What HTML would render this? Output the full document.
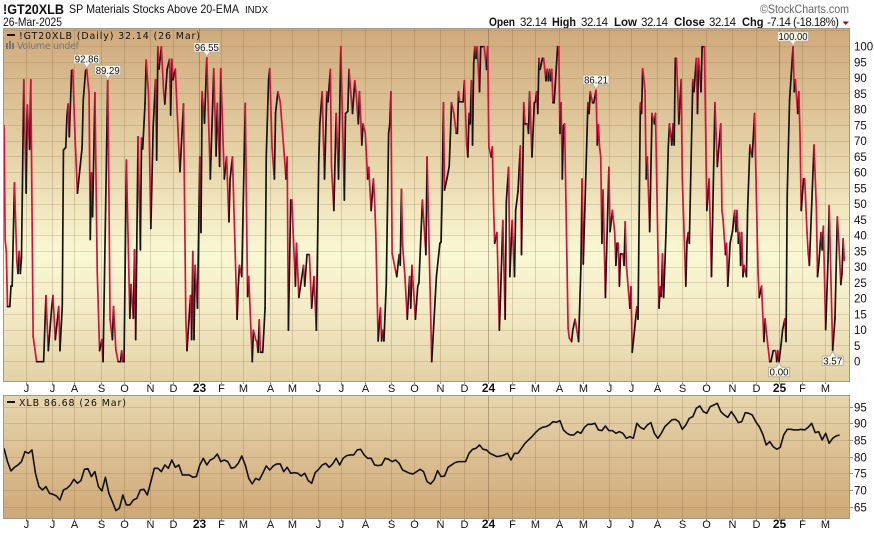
<!DOCTYPE html>
<html lang="en">
<head>
<meta charset="utf-8">
<title>!GT20XLB chart</title>
<style>
html,body{margin:0;padding:0;background:#fff;width:874px;height:533px;overflow:hidden}
svg{display:block}
text{font-family:"Liberation Sans",sans-serif;fill:#111}
.lg{font-family:"DejaVu Sans","Liberation Sans",sans-serif;font-size:9.5px}
.hb{font-weight:bold;font-size:12px}
.hv{font-size:11.5px}
</style>
</head>
<body>
<svg id="chart" xmlns="http://www.w3.org/2000/svg" width="874" height="533" viewBox="0 0 874 533">
<defs>
<linearGradient id="mainBg" x1="0" y1="0" x2="0" y2="1">
<stop offset="0" stop-color="#cfa97b"/><stop offset="0.36" stop-color="#e6d3a8"/><stop offset="0.64" stop-color="#faf8d4"/><stop offset="0.8" stop-color="#f3ebc6"/><stop offset="1" stop-color="#e4d1a6"/>
</linearGradient>
<linearGradient id="lowerBg" x1="0" y1="0" x2="0" y2="1">
<stop offset="0" stop-color="#e7d6ad"/><stop offset="1" stop-color="#cfa877"/>
</linearGradient>
</defs>

<text x="3" y="14" font-size="14" font-weight="bold" textLength="61" lengthAdjust="spacingAndGlyphs">!GT20XLB</text>
<text x="69" y="13" font-size="12" textLength="170" lengthAdjust="spacingAndGlyphs">SP Materials Stocks Above 20-EMA</text>
<text x="245" y="13" font-size="10.5" textLength="23" lengthAdjust="spacingAndGlyphs">INDX</text>
<text x="3" y="26" font-size="11.5" textLength="59" lengthAdjust="spacingAndGlyphs">26-Mar-2025</text>
<text x="760" y="13" font-size="12" style="fill:#666" textLength="89" lengthAdjust="spacingAndGlyphs">©StockCharts.com</text>

<g>
<text class="hb" x="489" y="26" textLength="26" lengthAdjust="spacingAndGlyphs">Open</text>
<text class="hv" x="520" y="26" textLength="27">32.14</text>
<text class="hb" x="552" y="26" textLength="24" lengthAdjust="spacingAndGlyphs">High</text>
<text class="hv" x="581" y="26" textLength="27">32.14</text>
<text class="hb" x="614" y="26" textLength="23" lengthAdjust="spacingAndGlyphs">Low</text>
<text class="hv" x="641" y="26" textLength="27">32.14</text>
<text class="hb" x="674" y="26" textLength="31" lengthAdjust="spacingAndGlyphs">Close</text>
<text class="hv" x="709" y="26" textLength="27">32.14</text>
<text class="hb" x="742" y="26" textLength="21.5" lengthAdjust="spacingAndGlyphs">Chg</text>
<text class="hv" x="767" y="26" textLength="72">-7.14 (-18.18%)</text>
<path d="M842.5 21.5h6.5l-3.25 3.5z" fill="#8f0f2f"/>
</g>

<rect x="3.5" y="28.5" width="846" height="353" fill="url(#mainBg)"/>
<rect x="3.5" y="395.5" width="846" height="123" fill="url(#lowerBg)"/>
<g id="grid"></g>
<g id="axes"></g>
<g id="mainSeries"></g>
<path id="xlbLine" fill="none" stroke="#111" stroke-width="1.6" stroke-linejoin="round"/>
<rect x="3.5" y="28.5" width="846" height="353" fill="none" stroke="#a8958a"/>
<rect x="3.5" y="395.5" width="846" height="123" fill="none" stroke="#a8958a"/>
<g id="callouts"></g>

<g>
<rect x="7" y="34" width="8" height="2" fill="#111"/>
<text class="lg" x="19" y="39" textLength="181">!GT20XLB (Daily) 32.14 (26 Mar)</text>
<path d="M6 43h2v6H6zM9 41h2v8H9zM12 43h2v6h-2z" fill="#777"/>
<text class="lg" x="17" y="49" textLength="62" style="fill:#777">Volume undef</text>
</g>
<g>
<rect x="7" y="401" width="8" height="2" fill="#111"/>
<text class="lg" x="19" y="406" textLength="107">XLB 86.68 (26 Mar)</text>
</g>
</svg>

<script>
// Trading-session number (0 = first session on the chart) of each reading
const breadthSessions = [
0,1,2,3,5,6,7,9,11,12,
13,14,15,17,19,20,22,23,24,25,
28,34,36,38,41,42,44,47,48,50,
51,53,54,55,56,58,59,61,63,67,
68,70,71,73,74,75,76,78,80,82,
84,85,89,90,91,93,94,96,98,100,
101,102,103,105,108,109,111,112,113,115,
117,118,119,121,122,124,126,128,130,131,
132,133,135,137,138,140,142,143,144,145,
147,150,151,154,156,157,160,161,162,163,
164,166,168,169,170,172,174,177,180,182,
183,185,186,189,191,193,194,196,200,201,
202,204,207,209,210,213,214,216,217,218,
219,220,222,224,225,227,228,230,232,233,
235,237,242,243,244,246,247,250,251,253,
257,258,260,262,264,266,268,270,271,273,
275,277,278,280,281,283,285,287,289,292,
293,295,296,299,301,302,304,305,307,308,
310,312,313,314,315,317,318,319,321,323,
324,325,326,328,330,331,332,333,337,339,
340,341,342,344,346,348,349,350,353,355,
356,359,362,363,367,371,374,375,376,377,
378,380,382,384,386,388,389,390,391,394,
395,397,398,399,400,401,402,403,404,405,
406,408,409,412,414,415,416,418,419,420,
421,423,425,426,428,430,431,433,434,436,
438,439,441,443,444,446,447,449,450,451,
453,455,456,457,458,459,460,462,463,465,
466,467,468,469,470,471,472,475,476,477,
478,479,480,481,484,485,487,488,490,493,
495,496,497,501,502,503,505,506,508,509,
510,511,512,513,514,516,519,520,522,524,
525,526,527,528,529,531,532,533,534,537,
538,539,541,542,543,544,546,547,548,549,
550,551,552,554,556,558,559,562,563,564,
565,566,568,570,571,573,574,575,576,577,
579,581,582,585,586,587,588,591,592,594,
595,596,598,599,601,603,605,607,610,612,
615,616,617,619,620,621,623,625,627,628,
629,630,631,632,633,634,635,637,638,640,
642,644,647,648,650,652,653,655,657,658,
660,662,663,664,665,667,668,670,671,672,
674,677,678,679,681,682,683,684,686,687,
689,690,691,695,697,698,699,701,702,703,
705,707,708,711,713,715,716,718,719,720,
721];
// Percent of stocks above 20-EMA at those sessions
const breadthValues = [
75,38.6,35,17.5,17.5,24,24,56.8,31.9,28,
35,28,33,89.5,53.5,81.5,67.4,89.5,50,8,
0,0,21,3.5,17.5,21,7,17.5,3.5,17.5,
67.2,68,78,81.8,71.4,92.4,92.6,71,53.5,68,
83,92.4,92.86,85,38.8,60,46,85.4,28.6,3.5,
7,0,89.29,54.5,13.4,7,17.5,3.7,0,0,
3.5,0,0,64,13.8,24.5,13.8,35.5,7,71.4,
35.5,71,67.5,82,95.8,85,42.3,74.6,89.5,64,
100,92.9,100,85.5,81.8,92.9,96,78.3,96,89.5,
92.9,67.5,60.3,81.8,13.8,3.5,21,7,35,7,
30.6,17,65,41,85.7,75.7,96.55,58,93,65.3,
82,62,93,58,65,44.4,58,65,13.5,24,
30.6,27,82,20.7,27,0,10,6.9,6.4,3,
13.3,3,3,17,65,89.4,93,68,58,79,
85.7,82.5,58,65,10,51.3,51.3,24,37.6,20.4,
30.6,24,34,34,17,27,10,63,75.6,85.7,
58,85.7,82.5,92.8,62,48,78.8,58,100,51.3,
78.8,79.5,92.8,78.8,89.2,85.7,75.5,85.7,68.8,75.5,
72.5,58,61.7,54.7,48,58,51,40.8,6.6,17,
6.6,10,6.6,24.6,72.5,75.5,85.7,34.4,27,34,
30.6,54.7,37,27,13.5,27,17,30.6,13.5,24,
25,51.3,34,65,0,27,37.6,38,54,82.2,
54.5,58,62,82.2,78.8,72.5,72.5,85.7,82.5,82.5,
89.2,68.8,65,78.8,75.5,89.2,68.8,94.7,100,96.3,
100,85.7,100,100,92.8,100,68.2,65,68.2,50,
37.6,41,10,20.6,44.8,13.5,51,61.7,27,44.8,
27,48,54,68.5,34,82.2,75.5,75.5,72.5,85.7,
65,82.2,82.5,85.7,78.8,96.3,92.8,96.3,96.3,89.2,
92.8,89.2,92.8,89.2,92.8,82.2,82.2,100,100,72.5,
82.2,58,75,75.5,10.6,7.5,6.4,10,13.5,6.4,
30,58,31,82.2,78.8,85.7,82.2,82.2,86.21,68.8,
75.2,68.2,65,37.6,54.5,20.4,61.7,41.3,48,41,
30.6,37.6,37.6,24,34.2,34.2,30.6,44.4,30.6,17,
23.8,3,10,13.8,17.4,13.5,82.2,78.8,93,90,
85.7,58,65,41.3,78.8,75.5,78.8,17,23.8,20.7,
34.2,20.4,41,68.6,75.5,68.8,75.5,68.8,96.3,96.3,
75.5,89.5,58,24,38,41,37.6,89.5,85.7,96.3,
78.8,96.3,85.7,100,100,48,58,27,82.2,62,
75.5,48,45,34,37.6,24,37.6,41.3,48,41.3,
48,37.6,41,30.6,41,27,30.6,27,48,68.8,
65,78.8,28,20.4,24,6.4,13.6,6.4,0,0,
3.5,3.5,0,3.5,0,6.4,10,13.6,6.4,53,
83,100,85.7,89.5,78.8,85.7,72,48,58,58,
41,34.4,30.6,68.8,49,27,30.6,41,35.5,43,
10.2,32,49.5,3.57,13.8,46,40,24.5,28,39,
32.14];
// XLB closing price, one reading every three sessions
const xlbStride = 3;
const xlbCloses = [
82.7,78.7,75.9,77,77.7,78.7,81.7,81.2,82.2,75.2,71.2,70.2,71.2,69.2,68.9,68.4,67.2,70.2,70.7,71.7,
73.4,72.2,73,76.4,76.6,74.2,75.7,71.2,69.9,74,69.2,66.7,64,64.7,68.7,65.7,65.7,67.2,67.7,70.2,
70.4,68.7,72.7,76.7,76.7,75.7,77.7,76.7,79.2,77,77.7,74.7,74.7,74.7,74,74.2,77.7,79.7,77.7,79.2,
79.7,81,78.7,79.2,78.7,76.7,77,78.2,80.4,77.7,73.7,72,73.7,73.2,75.2,77.4,76.2,77.4,78,78,
75.7,77,75.2,75.4,
75.2,74.4,75.2,73,72.2,75.4,76.4,77.7,78.2,77,78,79.7,77.7,79.7,80.5,80.7,80.7,82.2,82.4,80.7,
79.7,79.7,77.7,77.5,77.7,79.7,79.4,78.7,79.2,78.2,76.2,75.7,75.2,75,75.7,76.4,75.7,72.7,72,73.2,
76,74.2,74.4,77,77.7,78.4,78.7,78.7,78.7,81.2,82.4,82.7,83.7,82.4,82.2,81.2,80.7,80.2,80.4,80.7,
81.2,79.2,81.2,81.2,82.7,84.2,85.2,86.2,87.4,88.4,89,89.2,89.7,90.7,90.5,91,88.2,87.2,86.7,86.7,
87.7,87.2,89,
89.9,89.9,90.2,88.2,88,89.4,88,88,87.2,87.7,87.2,85.7,86.2,85.7,90.2,89,88.4,89.7,90.4,87.2,
85.7,87.2,89.2,90.2,91.2,91.4,90.7,88.4,89.7,91.7,92.2,94.7,95.4,93.7,93.2,95.2,95.7,96.2,93.7,92.7,
92,93.7,92.2,90.4,90.7,93.4,93.2,92.7,90.7,89.2,87,83.7,84.7,83.2,82.4,83,86.7,88.4,88.4,88.2,
88.2,88.4,88.2,89,90.2,87.4,87.7,85.2,87.2,84.2,85.7,86.4,86.68];
// Month boundaries in trading sessions and their labels
const monthSessions = [19,41,60,83,103,125,145,167,186,205,228,247,269,289,310,332,352,374,395,415,436,456,476,497,519,538,560,582,602,625,645,665,685,704];
const monthLabels = ["J","J","A","S","O","N","D","23","F","M","A","M","J","J","A","S","O","N","D","24","F","M","A","M","J","J","A","S","O","N","D","25","F","M"];
const mainTicks = [100,95,90,85,80,75,70,65,60,55,50,45,40,35,30,25,20,15,10,5,0];
const lowerTicks = [95,90,85,80,75,70,65];
// Sessions whose reading is printed in a callout
const calloutSessions = [71,89,174,508,677,665,711];

const NS = 'http://www.w3.org/2000/svg';
const xAxis = s => 4 + s * 1.1655;
const yMain = v => 361.7 - v * 3.15;
const yLower = v => 407.3 + (95 - v) * 3.3333;
function mk(tag, parent, attrs, txt) {
  const el = document.createElementNS(NS, tag);
  for (const k in attrs) el.setAttribute(k, attrs[k]);
  if (txt !== undefined) el.textContent = txt;
  parent.appendChild(el);
  return el;
}
const grid = document.getElementById('grid');
const axes = document.getElementById('axes');
const GRID_H = 'rgba(125,95,55,.2)';
const GRID_V = 'rgba(125,95,55,.24)';
const GRID_Y = 'rgba(110,85,65,.42)';

[105].concat(mainTicks).forEach(v => {
  const y = Math.floor(yMain(v)) + .5;
  const ln = mk('line', grid, {x1: 4, x2: 849, y1: y, y2: y, stroke: GRID_H});
  
  
});
mainTicks.forEach(v => {
  const y = yMain(v);
  const t = mk('text', axes, {x: 854, y: y + 4, 'font-size': 11.5}, String(v));
  
  
});
lowerTicks.forEach(v => {
  const y = Math.floor(yLower(v)) + .5;
  const ln = mk('line', grid, {x1: 4, x2: 849, y1: y, y2: y, stroke: GRID_H});
  
  
  const tk = mk('line', axes, {x1: 850, x2: 853, y1: y, y2: y, stroke: '#a8958a'});
  
  
  const t = mk('text', axes, {x: 854, y: y + 4, 'font-size': 11.5}, String(v));
  
  
});
monthSessions.forEach((s, i) => {
  const x = Math.round(xAxis(s)) + .5;
  const label = monthLabels[i];
  const isYear = label.length > 1;
  const color = isYear ? GRID_Y : GRID_V;
  const v1 = mk('line', grid, {x1: x, x2: x, y1: 29, y2: 381, stroke: color});
  
  
  const v2 = mk('line', grid, {x1: x, x2: x, y1: 396, y2: 518, stroke: color});
  
  
  const t1 = mk('line', axes, {x1: x, x2: x, y1: 382, y2: 384, stroke: '#a8958a'});
  
  
  const t2 = mk('line', axes, {x1: x, x2: x, y1: 519, y2: 521, stroke: '#a8958a'});
  
  
  [392, 528].forEach(base => {
    const lab = mk('text', axes, {x: x, y: base, 'text-anchor': 'middle', 'font-size': isYear ? 12 : 11, 'font-weight': isYear ? 'bold' : 'normal'}, label);
    
    
  });
});

const mainSeries = document.getElementById('mainSeries');
for (let i = 1; i < breadthValues.length; i++) {
  const up = breadthValues[i] >= breadthValues[i - 1];
  const seg = mk('line', mainSeries, {
    x1: xAxis(breadthSessions[i - 1]).toFixed(2), y1: yMain(breadthValues[i - 1]).toFixed(2),
    x2: xAxis(breadthSessions[i]).toFixed(2), y2: yMain(breadthValues[i]).toFixed(2),
    stroke: up ? '#141410' : '#d5123c', 'stroke-width': 1.7, 'stroke-linecap': 'round'
  });
  
  
}

document.getElementById('xlbLine').setAttribute('d', xlbCloses.map((v, i) =>
  (i ? 'L' : 'M') + xAxis(i * xlbStride).toFixed(2) + ' ' + yLower(v).toFixed(2)).join(''));

const callouts = document.getElementById('callouts');
calloutSessions.forEach(s => {
  const idx = breadthSessions.indexOf(s);
  const v = breadthValues[idx];
  const label = v.toFixed(2);
  const x = xAxis(s);
  const y = yMain(v);
  const w = label.length * 5 + 1;
  const below = v < 10;
  const boxY = below ? y + 5.5 : y - 15;
  const path = below
    ? `M${x - w / 2} ${boxY}H${x - 3}L${x} ${y + 1}L${x + 3} ${boxY}H${x + w / 2}V${boxY + 9.5}H${x - w / 2}Z`
    : `M${x - w / 2} ${boxY}H${x + w / 2}V${boxY + 9.5}H${x + 3}L${x} ${y - 1}L${x - 3} ${boxY + 9.5}H${x - w / 2}Z`;
  const box = mk('path', callouts, {d: path, fill: '#f8f5ea', stroke: '#bdb09c', 'stroke-width': 1});
  
  
  const t = mk('text', callouts, {x: x, y: boxY + 8.5, 'text-anchor': 'middle', 'font-size': 10.5, textLength: w - 2, lengthAdjust: 'spacingAndGlyphs'}, label);
  
  
});
</script>
</body>
</html>
